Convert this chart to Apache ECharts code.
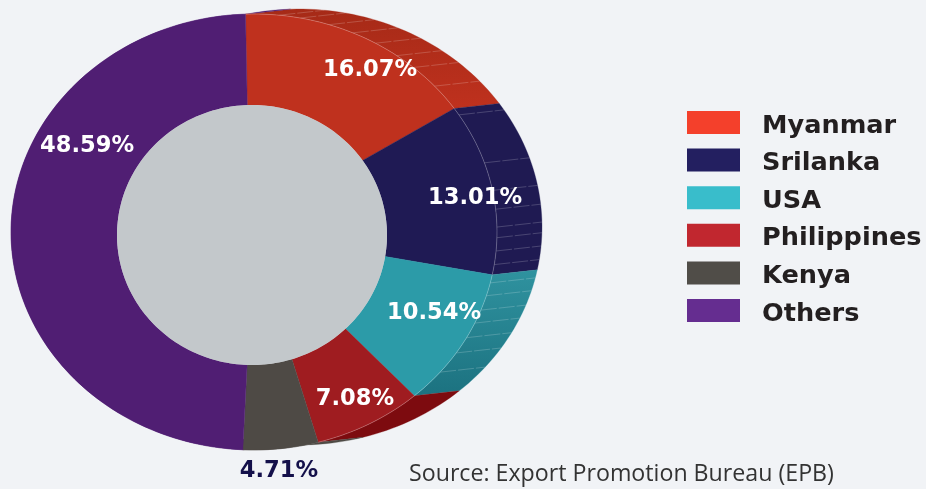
<!DOCTYPE html>
<html>
<head>
<meta charset="utf-8">
<style>html,body{margin:0;padding:0;background:#f1f3f6}#c{width:926px;height:489px}</style>
<script src="https://cdn.jsdelivr.net/npm/echarts@6/dist/echarts.min.js"></script>
</head>
<body>
<div id="c"></div>
<script>
const countries = ['Myanmar', 'Srilanka', 'USA', 'Philippines', 'Kenya', 'Others'];
const shares = [16.07, 13.01, 10.54, 7.08, 4.71, 48.59];
const legendColors = ['#f4402b', '#231f60', '#39bdcb', '#c1272f', '#504d48', '#652d90'];
const faceColors = ['#bf311e', '#1f1a54', '#2c9ba8', '#9f1c20', '#4e4a45', '#501e73'];
const wallTop = ['#a62a17', '#1f1a52', '#2f929f', '#7d0b0f', '#4e4a45', '#501e73'];
const wallBottom = ['#bf311e', '#1f1a52', '#1c7280', '#7d0b0f', '#4e4a45', '#501e73'];
const labelColors = ['#fff', '#fff', '#fff', '#fff', '#14104a', '#fff'];

// style constants: projected geometry of the tilted ring
const FACE = {cx: 254, cy: 232, rx: 243, ry: 218, warp: 18};
const HOLE = {cx: 252, cy: 235, rx: 135, ry: 130, warp: 42};
const DEPTH = [45, -5];
const LABEL_AT = [[370, 70], [475, 198], [434, 313], [355, 399], [279, 471], [87, 146]];
const RIBS = [
  [6, 11, 18, 24, 30, 36, 41, 48],
  [57.5, 71.5, 79, 84, 88.7, 91.5, 95, 98.6],
  [103.5, 107, 111, 114.7, 119, 123.7, 130],
  [], [], []
];
const rad = d => d * Math.PI / 180;
function warpAngle(pct, warp) {
  const a = pct * 3.6, s = a / 190;
  return a - 2 - (s < 1 ? warp * s * s * s * (1 - s) : 0);
}
function onEllipse(e, deg, off) {
  return [e.cx + e.rx * Math.sin(rad(deg)) + (off ? off[0] : 0),
          e.cy - e.ry * Math.cos(rad(deg)) + (off ? off[1] : 0)];
}
function arc(e, d0, d1, off) {
  const n = Math.max(2, Math.ceil(Math.abs(d1 - d0) / 1.5)), pts = [];
  for (let k = 0; k <= n; k++) pts.push(onEllipse(e, d0 + (d1 - d0) * k / n, off));
  return pts;
}
function sliceRenderer(i) {
  return function (params, api) {
    const p0 = api.value(0), p1 = api.value(1);
    const f0 = warpAngle(p0, FACE.warp), f1 = warpAngle(p1, FACE.warp);
    const h0 = warpAngle(p0, HOLE.warp), h1 = warpAngle(p1, HOLE.warp);
    const frontArc = arc(FACE, f0, f1);
    const children = [];
    children.push({
      type: 'polygon', z2: 1,
      shape: {points: frontArc.concat(arc(FACE, f1, f0, DEPTH))},
      style: {
        fill: {type: 'linear', x: 0, y: 0, x2: 0, y2: 1,
          colorStops: [{offset: 0, color: wallTop[i]}, {offset: 1, color: wallBottom[i]}]},
        stroke: wallTop[i], lineWidth: 0.3
      }
    });
    RIBS[i].forEach(d => {
      const a = onEllipse(FACE, d), b = onEllipse(FACE, d, DEPTH);
      children.push({
        type: 'line', z2: 2,
        shape: {x1: a[0], y1: a[1], x2: b[0], y2: b[1]},
        style: {stroke: 'rgba(255,255,255,0.24)', lineWidth: 0.8, lineDash: [16, 2]}
      });
    });
    children.push({
      type: 'polygon', z2: 5,
      shape: {points: frontArc.concat(arc(HOLE, h1, h0))},
      style: {fill: faceColors[i], stroke: faceColors[i], lineWidth: 0.4}
    });
    if (i < 4) children.push({
      type: 'polyline', z2: 6,
      shape: {points: frontArc},
      style: {fill: 'none', stroke: 'rgba(255,255,255,0.35)', lineWidth: 0.7}
    });
    children.push({
      type: 'text', z2: 10, x: LABEL_AT[i][0], y: LABEL_AT[i][1],
      style: {
        text: shares[i].toFixed(2) + '%', fill: labelColors[i],
        font: 'bold 22.6px "DejaVu Sans"', align: 'center', verticalAlign: 'middle'
      }
    });
    return {type: 'group', children};
  };
}
let running = 0;
const series = countries.map((name, i) => {
  const start = running;
  running += shares[i];
  return {
    type: 'custom', name, coordinateSystem: 'none', z: 2, silent: true,
    animation: false, clip: false,
    data: [[+start.toFixed(2), +running.toFixed(2)]],
    renderItem: sliceRenderer(i),
    itemStyle: {color: legendColors[i]}
  };
});
const chart = echarts.init(document.getElementById('c'), null, {renderer: 'canvas'});
chart.setOption({
  backgroundColor: '#f1f3f6',
  animation: false,
  legend: {
    orient: 'vertical', left: 682, top: 101, icon: 'rect',
    itemWidth: 53, itemHeight: 23, itemGap: 4.6, align: 'left',
    selectedMode: false,
    formatter: '{n|{name}}',
    data: countries.map((name, i) => ({name, itemStyle: {color: legendColors[i]}})),
    textStyle: {
      rich: {n: {color: '#231f20', fontFamily: 'DejaVu Sans', fontWeight: 'bold', fontSize: 25.6, lineHeight: 23, padding: [7, 0, 0, 17]}}
    }
  },
  graphic: {elements: [
    {type: 'polygon', z: 3, silent: true, shape: {points: arc(HOLE, 0, 360)}, style: {fill: '#c3c8cb'}},
    {type: 'text', left: 409, top: 463, silent: true,
     style: {text: 'Source: Export Promotion Bureau (EPB)', fill: '#333333', font: '23.2px "Open Sans"'}}
  ]},
  series
});
</script>
</body>
</html>
